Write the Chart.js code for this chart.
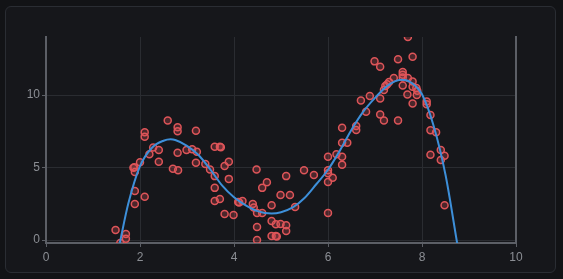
<!DOCTYPE html>
<html>
<head>
<meta charset="utf-8">
<script src="https://cdn.jsdelivr.net/npm/chart.js@4"></script>
<style>
  html, body { margin: 0; padding: 0; background: #121316; }
  #card {
    position: absolute; left: 5px; top: 6px; width: 549px; height: 265px;
    background: #16171b; border: 1px solid #2a2d33; border-radius: 6px;
  }
  #wrap { position: absolute; left: 0; top: 0; width: 563px; height: 279px; }
</style>
</head>
<body>
<div id="card"></div>
<div id="wrap"><canvas id="plot" width="563" height="279"></canvas></div>
<script>
// scattered samples
const sampleX = [1.48, 1.70, 1.70, 1.58, 1.89, 1.89, 2.10, 1.86, 1.88, 1.89, 2.00, 2.10, 2.10, 2.28, 2.20,
  2.40, 2.40, 2.59, 2.80, 2.80, 2.80, 2.70, 2.81, 2.99, 3.11, 3.21, 3.19, 3.19, 3.39, 3.49,
  3.59, 3.59, 3.59, 3.70, 3.59, 3.70, 3.72, 3.80, 3.89, 3.89, 3.80, 3.99, 4.09, 4.11, 4.18,
  4.40, 4.42, 4.48, 4.49, 4.60, 4.49, 4.49, 4.60, 4.70, 4.80, 4.80, 4.89, 4.99, 5.11, 5.11,
  4.80, 4.89, 4.91, 4.99, 5.19, 5.11, 5.30, 5.49, 5.70, 6.00, 6.00, 6.00, 6.00, 6.10, 6.00,
  6.18, 6.30, 6.30, 6.30, 6.41, 6.30, 6.60, 6.60, 6.81, 6.70, 6.89, 7.11, 7.11, 7.19, 7.49,
  7.69, 7.70, 6.99, 7.11, 7.49, 7.80, 7.59, 7.59, 7.59, 7.40, 7.30, 7.26, 7.19, 7.22, 7.59,
  7.70, 7.80, 7.80, 7.88, 7.90, 7.89, 7.80, 8.10, 8.10, 8.18, 8.18, 8.30, 8.18, 8.40, 8.48,
  8.40, 8.48];
const sampleY = [0.69, 0.42, 0.10, -0.20, 3.39, 2.49, 2.98, 4.98, 5.02, 4.70, 5.36, 7.43, 7.13, 6.39, 5.91,
  6.21, 5.40, 8.24, 7.78, 7.50, 6.02, 4.91, 4.82, 6.21, 6.26, 6.09, 7.54, 5.33, 5.24, 4.87,
  4.41, 3.60, 2.70, 2.84, 6.44, 6.44, 6.40, 5.10, 5.40, 4.22, 1.80, 1.73, 2.63, 2.60, 2.70,
  2.49, 2.24, 4.87, 1.87, 1.87, 0.90, 0.00, 3.60, 3.99, 2.40, 1.31, 1.09, 1.11, 1.02, 0.62,
  0.28, 0.28, 0.25, 3.11, 3.11, 4.41, 2.28, 4.82, 4.48, 5.74, 4.82, 4.60, 4.01, 4.29, 1.87,
  5.91, 5.74, 5.19, 6.71, 6.71, 7.75, 7.87, 7.59, 8.84, 9.62, 9.94, 9.76, 8.65, 8.24, 8.24,
  10.03, 14.00, 12.32, 11.95, 12.46, 12.64, 11.58, 11.40, 11.21, 11.17, 10.89, 10.75, 10.34, 10.62, 10.66,
  11.17, 10.93, 10.57, 10.48, 10.29, 10.01, 9.41, 9.55, 9.37, 8.63, 7.57, 7.43, 5.88, 6.21, 5.81,
  5.52, 2.40];

// fitted curve
const fitX = [1.57, 1.75, 2.0, 2.25, 2.5, 2.65, 2.75, 3.0, 3.25, 3.5, 3.75, 4.0, 4.25, 4.5, 4.8,
  5.0, 5.25, 5.5, 5.75, 6.0, 6.25, 6.5, 6.75, 7.0, 7.25, 7.55, 7.75, 8.0, 8.25, 8.5, 8.75];
const fitY = [-0.2, 2.5, 5.1, 6.35, 6.85, 6.95, 6.9, 6.5, 5.85, 4.85, 3.75, 2.95, 2.4, 2.0, 1.83,
  1.92, 2.25, 2.9, 3.85, 4.85, 6.15, 7.6, 8.85, 9.8, 10.6, 11.05, 10.9, 10.05, 7.85, 4.5, -0.25];

const xRange = [0, 10];
const yRange = [-0.2, 14];

const axisColor = '#5c5f66';
const gridColor = '#2a2c31';
const labelColor = '#8b8e94';

new Chart(document.getElementById('plot'), {
  type: 'scatter',
  data: {
    datasets: [{
      type: 'line',
      data: fitX.map((x, i) => ({x: x, y: fitY[i]})),
      borderColor: '#3d8fd9',
      borderWidth: 2,
      pointRadius: 0,
      cubicInterpolationMode: 'monotone',
      fill: false,
      clip: 0,
    }, {
      data: sampleX.map((x, i) => ({x: x, y: sampleY[i]})),
      backgroundColor: 'rgba(214, 80, 86, 0.28)',
      borderColor: '#de5559',
      borderWidth: 1.5,
      pointRadius: 3.5,
      clip: 0,
    }]
  },
  options: {
    responsive: false,
    animation: false,
    layout: { padding: { top: 37, right: 47, bottom: 0, left: 6 } },
    plugins: { legend: { display: false }, tooltip: { enabled: false } },
    scales: {
      x: {
        type: 'linear',
        min: xRange[0], max: xRange[1],
        afterFit: (s) => { s.height = 36; },
        border: { color: axisColor, width: 2 },
        grid: { color: gridColor, tickColor: axisColor, tickLength: 4 },
        ticks: { stepSize: 2, color: labelColor, padding: 3, font: { size: 12 } },
      },
      y: {
        type: 'linear',
        min: yRange[0], max: yRange[1],
        afterFit: (s) => { s.width = 40; },
        border: { color: axisColor, width: 2 },
        grid: { color: gridColor, tickColor: axisColor, tickLength: 4 },
        ticks: { stepSize: 5, includeBounds: false, color: labelColor, padding: 2, font: { size: 12 } },
      },
      y2: {
        type: 'linear',
        position: 'right',
        min: 0, max: 1,
        afterFit: (s) => { s.width = 0; },
        border: { color: axisColor, width: 2 },
        grid: { display: false },
        ticks: { display: false },
      }
    }
  }
});
</script>
</body>
</html>
